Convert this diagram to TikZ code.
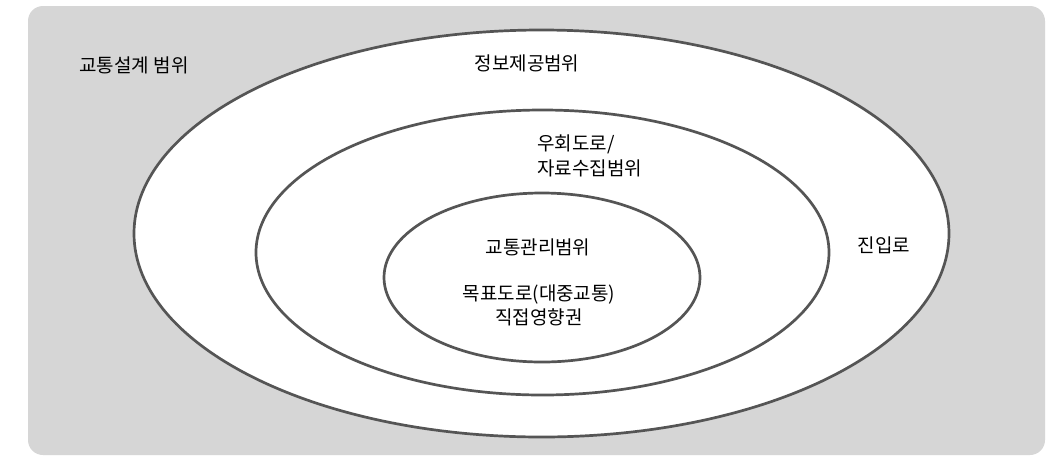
\documentclass[tikz,border=0pt]{standalone}
\usepackage{fontspec}
\setmainfont{Noto Sans CJK KR}
\usetikzlibrary{shapes.geometric}
\definecolor{panelgray}{RGB}{214,214,214}
\definecolor{ringline}{RGB}{85,85,85}
\tikzset{
  ring/.style={ellipse, draw=ringline, line width=2.7pt, fill=white, inner sep=0pt, outer sep=0pt},
  lbl/.style={font=\fontsize{19}{25}\selectfont, text=black, inner sep=0pt}
}
\begin{document}
\begin{tikzpicture}[x=1pt, y=-1pt]
\useasboundingbox (0,0) rectangle (1058,459);
\fill[white] (0,0) rectangle (1058,459);
\node[draw=none, fill=panelgray, rounded corners=15pt, minimum width=1017pt, minimum height=449pt, inner sep=0pt, outer sep=0pt] (panel) at (536.5,230.5) {};
\node[ring, minimum width=815pt, minimum height=407pt] (outer) at (541.5,233.5) {};
\node[ring, minimum width=573pt, minimum height=285pt] (middle) at (542.5,252.5) {};
\node[ring, minimum width=316pt, minimum height=169pt] (inner) at (542,277.5) {};
\node[lbl] (design) at (134,65) {교통설계 범위};
\node[lbl] (info) at (527,63) {정보제공범위};
\node[lbl, align=left, anchor=west] (detour) at (537,155.5) {우회도로/\\자료수집범위};
\node[lbl] (access) at (884,245) {진입로};
\node[lbl] (mgmt) at (538,247) {교통관리범위};
\node[lbl, align=center, font=\fontsize{19}{24}\selectfont] (target) at (539,305) {목표도로(대중교통)\\직접영향권};
\end{tikzpicture}
\end{document}
